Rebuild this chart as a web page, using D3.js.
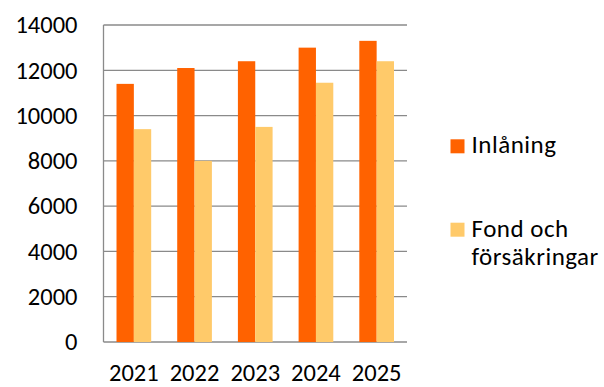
<!DOCTYPE html>
<html>
<head>
<meta charset="utf-8">
<script src="https://cdn.jsdelivr.net/npm/d3@7"></script>
<style>
  html, body { margin: 0; padding: 0; background: #fff; }
  svg { display: block; font-family: Carlito, Calibri, "Open Sans", sans-serif; }
</style>
</head>
<body>
<svg id="chart" width="604" height="387"></svg>
<script>
// Years on the x axis
const years = ["2021", "2022", "2023", "2024", "2025"];
// Series names and values
const seriesNames = ["Inlåning", "Fond och försäkringar"];
const inlaning = [11400, 12100, 12400, 13000, 13300];
const fondForsakringar = [9400, 8000, 9500, 11450, 12400];
// Y-axis ticks
const yTicks = [0, 2000, 4000, 6000, 8000, 10000, 12000, 14000];

const colors = ["#FF6200", "#FFCA6A"];
const series = [inlaning, fondForsakringar];

const svg = d3.select("#chart");
const plot = { left: 103.5, right: 407, top: 25, bottom: 342 };

const x0 = d3.scaleBand().domain(years).range([plot.left, plot.right]).paddingInner(0).paddingOuter(0);
const barW = x0.bandwidth() / 3.5;
const x1 = d3.scaleBand().domain([0, 1]).range([0, 2 * barW]);
const y = d3.scaleLinear().domain([0, 14000]).range([plot.bottom, plot.top]);

// Horizontal gridlines
svg.append("g")
  .selectAll("line")
  .data(yTicks)
  .join("line")
  .attr("x1", plot.left).attr("x2", plot.right)
  .attr("y1", d => y(d)).attr("y2", d => y(d))
  .attr("stroke", "#8a8a8a").attr("stroke-width", 1.3);

// Left axis line
svg.append("line")
  .attr("x1", plot.left).attr("x2", plot.left)
  .attr("y1", plot.top).attr("y2", plot.bottom)
  .attr("stroke", "#8a8a8a").attr("stroke-width", 1.3);

// Bars
const groups = svg.append("g")
  .selectAll("g")
  .data(years)
  .join("g")
  .attr("transform", d => `translate(${x0(d) + 0.75 * barW},0)`);

groups.selectAll("rect")
  .data((d, i) => series.map((s, k) => ({ k, v: s[i] })))
  .join("rect")
  .attr("x", d => x1(d.k))
  .attr("width", barW)
  .attr("y", d => y(d.v))
  .attr("height", d => y(0) - y(d.v))
  .attr("fill", d => colors[d.k]);

// Y tick labels
svg.append("g")
  .selectAll("text")
  .data(yTicks)
  .join("text")
  .attr("x", 77.5)
  .attr("y", d => y(d) + 8.3)
  .attr("text-anchor", "end")
  .attr("font-size", 24.5)
  .attr("fill", "#000")
  .text(d => d);

// X tick labels
svg.append("g")
  .selectAll("text")
  .data(years)
  .join("text")
  .attr("x", d => x0(d) + x0.bandwidth() / 2)
  .attr("y", 381)
  .attr("text-anchor", "middle")
  .attr("font-size", 24.5)
  .attr("fill", "#000")
  .text(d => d);

// Legend
const legend = svg.append("g");
const legendItems = [
  { color: colors[0], lines: ["Inlåning"], baseline: 153.3 },
  { color: colors[1], lines: ["Fond och", "försäkringar"], baseline: 236.7 }
];
legendItems.forEach(item => {
  legend.append("rect")
    .attr("x", 450.5).attr("y", item.baseline - 14)
    .attr("width", 14).attr("height", 14)
    .attr("fill", item.color);
  legend.append("text")
    .attr("y", item.baseline)
    .attr("font-size", 25)
    .attr("letter-spacing", 0.5)
    .attr("fill", "#000")
    .selectAll("tspan")
    .data(item.lines)
    .join("tspan")
    .attr("x", 471.5)
    .attr("dy", (d, i) => i === 0 ? 0 : 28.5)
    .text(d => d);
});
</script>
</body>
</html>
